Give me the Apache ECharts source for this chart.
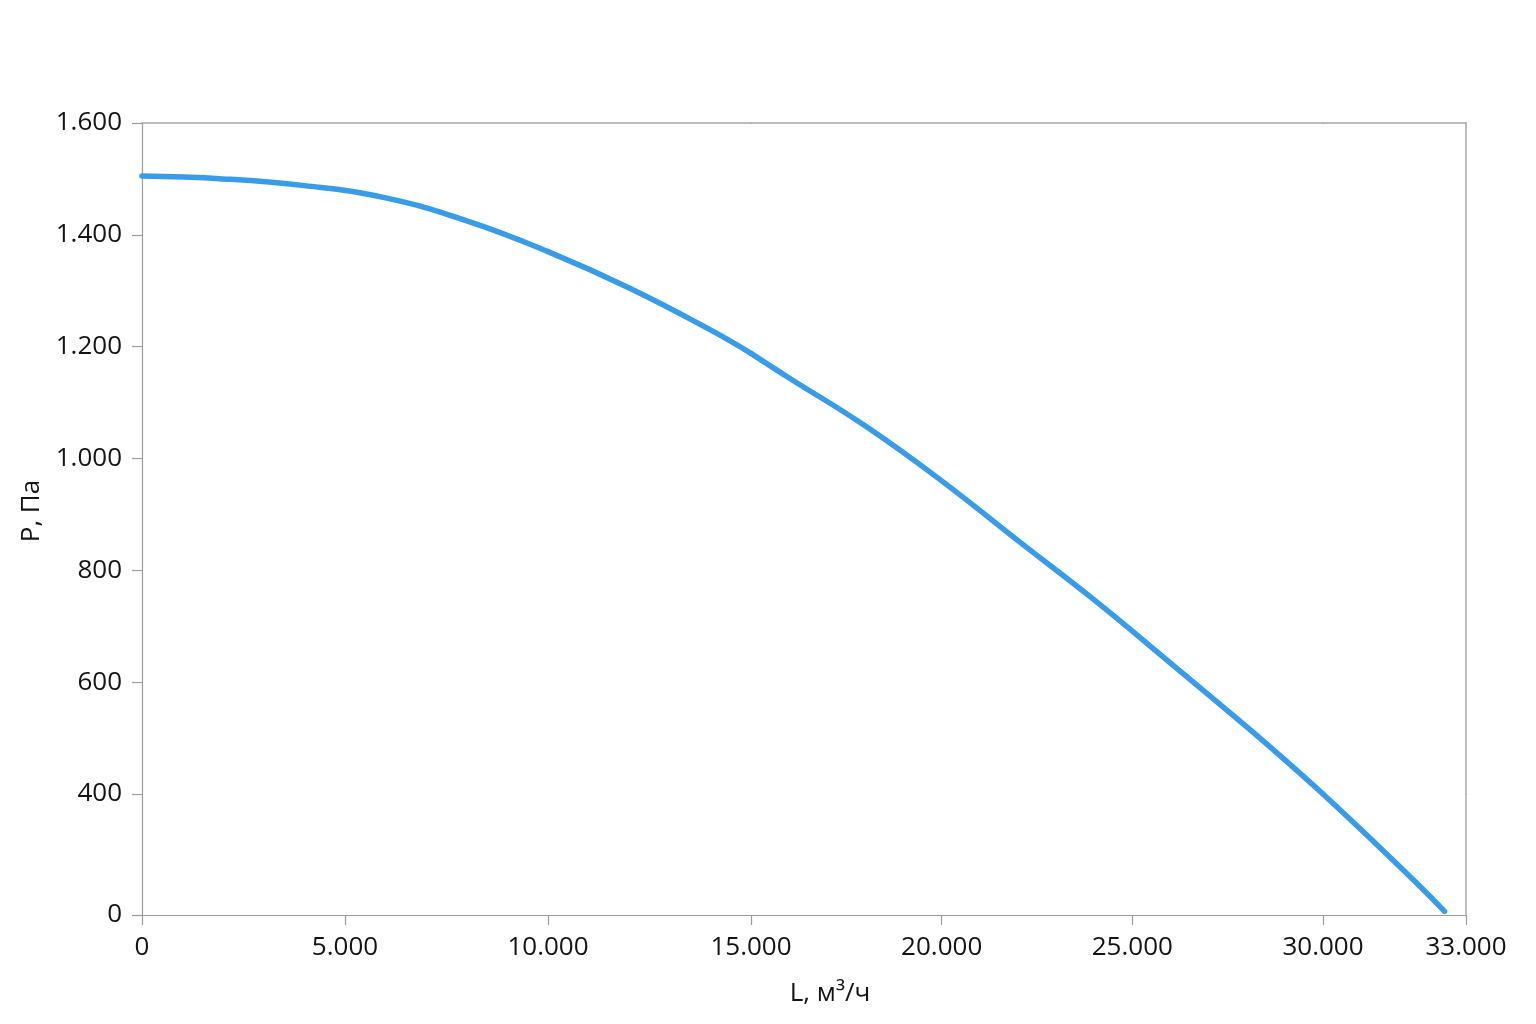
<!DOCTYPE html>
<html>
<head>
<meta charset="utf-8">
<script src="https://cdn.jsdelivr.net/npm/echarts@6/dist/echarts.min.js"></script>
<style>
  html, body { margin: 0; padding: 0; background: #ffffff; }
  #chart { width: 1536px; height: 1024px; }
</style>
</head>
<body>
<div id="chart"></div>
<script>
// Flow rate L, m3/h
const flowL = [0, 2000, 4000, 6000, 8000, 10000, 12000, 14000, 15000, 16000, 18000, 20000, 22000, 24000, 26000, 28000, 29000, 30000, 31000, 32000, 32550];
// Pressure P, Pa
const pressureP = [1505, 1500, 1488, 1466, 1425, 1370, 1305, 1230, 1188, 1144, 1058, 960, 853, 747, 634, 520, 461, 400, 252, 100, 12];

// Tick labels as shown on the axes
const xTickValues = [0, 5000, 10000, 15000, 20000, 25000, 30000, 33000];
const yTickValues = [0, 400, 600, 800, 1000, 1200, 1400, 1600];

// The reference axes are not uniform: they are drawn here as broken axes,
// x in pieces [0..15000], [15000..30000], [30000..33000]; y in pieces [400..1600], [0..400]
const xPieces = [[0, 15000], [15000, 30000], [30000, 33000]];
const yPieces = [[400, 1600], [0, 400]];

const fmt = v => String(v).replace(/\B(?=(\d{3})+(?!\d))/g, '.');
const AX = '#9c9c9c';
const BORDER = '#a9a9a9';
const TXT = '#141414';
const FONT = '"Open Sans", "Noto Sans", sans-serif';
const lblStyle = { color: TXT, fontSize: 26, fontFamily: FONT };
const lineColor = '#399ce8';

// pixel layout of the plot pieces
const colPx = [[142, 751], [751, 1323], [1323, 1466]];
const rowPx = [[123, 794], [794, 915]];

const points = flowL.map((l, i) => [l, pressureP[i]]);

const grids = [], xAxes = [], yAxes = [];
rowPx.forEach((rp, r) => {
  colPx.forEach((cp, c) => {
    grids.push({ left: cp[0], top: rp[0], width: cp[1] - cp[0], height: rp[1] - rp[0], outerBoundsMode: 'none' });
    const gi = grids.length - 1;
    const [xmin, xmax] = xPieces[c];
    const [ymin, ymax] = yPieces[r];
    const isBottom = r === rowPx.length - 1;
    const xVals = xTickValues.filter(v => (c === 0 ? v >= xmin : v > xmin) && v <= xmax);
    xAxes.push({
      gridIndex: gi, type: 'value', position: isBottom ? 'bottom' : 'top', min: xmin, max: xmax,
      axisLine: { show: true, onZero: false, lineStyle: isBottom ? { color: AX, width: 1.2 } : { color: BORDER, width: 1.5 } },
      axisTick: isBottom ? { show: true, length: 10, lineStyle: { color: AX, width: 1.2 }, customValues: xVals } : { show: false },
      axisLabel: isBottom ? Object.assign({ margin: 20, formatter: fmt, showMinLabel: true, showMaxLabel: true, customValues: xVals }, lblStyle) : { show: false },
      splitLine: { show: false }
    });
    const yVals = yTickValues.filter(v => v >= ymin && (r === 0 ? v <= ymax : v < ymax));
    const isLeft = c === 0, isRight = c === colPx.length - 1;
    yAxes.push({
      gridIndex: gi, type: 'value', position: isRight ? 'right' : 'left', min: ymin, max: ymax,
      show: isLeft || isRight,
      axisLine: { show: isLeft || isRight, onZero: false, lineStyle: isLeft ? { color: AX, width: 1.2 } : { color: BORDER, width: 1.5 } },
      axisTick: isLeft ? { show: true, length: 10, lineStyle: { color: AX, width: 1.2 }, customValues: yVals } : { show: false },
      axisLabel: isLeft ? Object.assign({ margin: 20, formatter: fmt, showMinLabel: true, showMaxLabel: true, customValues: yVals }, lblStyle) : { show: false },
      splitLine: { show: false }
    });
  });
});

// split the curve into the pieces it passes through (boundary points belong to both sides)
const series = [];
rowPx.forEach((rp, r) => {
  colPx.forEach((cp, c) => {
    const gi = r * colPx.length + c;
    const [xmin, xmax] = xPieces[c];
    const [ymin, ymax] = yPieces[r];
    const seg = points.filter(p => p[0] >= xmin && p[0] <= xmax && p[1] >= ymin && p[1] <= ymax);
    if (seg.length >= 2) {
      series.push({
        name: 'P', type: 'line', xAxisIndex: gi, yAxisIndex: gi, data: seg,
        smooth: 0.45, showSymbol: false, clip: false,
        lineStyle: { color: lineColor, width: 5.5, cap: 'round', join: 'round' },
        itemStyle: { color: lineColor }, emphasis: { disabled: true }
      });
    }
  });
});

const chart = echarts.init(document.getElementById('chart'), null, { renderer: 'canvas' });
chart.setOption({
  animation: false,
  backgroundColor: '#ffffff',
  grid: grids,
  xAxis: xAxes,
  yAxis: yAxes,
  series: series,
  graphic: [
    { type: 'text', x: 830, y: 994, silent: true,
      style: { text: 'L, м³/ч', fill: TXT, font: '26px ' + FONT, align: 'center', verticalAlign: 'middle' } },
    { type: 'text', x: 32, y: 511, rotation: Math.PI / 2, silent: true,
      style: { text: 'Р, Па', fill: TXT, font: '26px ' + FONT, align: 'center', verticalAlign: 'middle' } }
  ]
});
</script>
</body>
</html>
